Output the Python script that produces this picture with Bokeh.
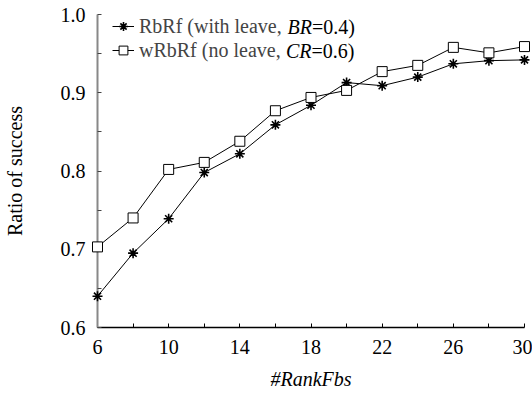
from bokeh.plotting import figure
from bokeh.models import Range1d, FixedTicker, Legend, LegendItem, Label, PrintfTickFormatter
from bokeh.embed import file_html
from bokeh.resources import INLINE

# ---- data ----
rank_fbs = [6, 8, 10, 12, 14, 16, 18, 20, 22, 24, 26, 28, 30]
rbrf = [0.640, 0.695, 0.739, 0.798, 0.822, 0.859, 0.884, 0.913, 0.909, 0.920, 0.937, 0.941, 0.942]
wrbrf = [0.703, 0.740, 0.802, 0.811, 0.838, 0.877, 0.894, 0.903, 0.927, 0.935, 0.958, 0.951, 0.959]
x_ticks = [6, 10, 14, 18, 22, 26, 30]
x_minor = [8, 12, 16, 20, 24, 28]
y_ticks = [0.6, 0.7, 0.8, 0.9, 1.0]
y_minor = [0.65, 0.75, 0.85, 0.95]

FONT = "Liberation Serif"
FS = "20px"

p = figure(width=532, height=397, output_backend="svg", toolbar_location=None,
           x_range=Range1d(6, 30), y_range=Range1d(0.6, 1.0),
           min_border_left=95, min_border_right=8, min_border_top=14, min_border_bottom=70)
p.outline_line_color = None
p.xgrid.visible = False
p.ygrid.visible = False
p.background_fill_color = "white"

for ax in (p.xaxis, p.yaxis):
    ax.major_tick_in = 4
    ax.major_tick_out = 0
    ax.minor_tick_in = 4
    ax.minor_tick_out = 0
    ax.major_label_text_font = FONT
    ax.major_label_text_font_size = FS
    ax.major_label_text_color = "black"
    ax.axis_label_text_font = FONT
    ax.axis_label_text_font_size = FS
    ax.axis_label_text_color = "black"

p.xaxis.ticker = FixedTicker(ticks=x_ticks, minor_ticks=x_minor)
p.yaxis.ticker = FixedTicker(ticks=y_ticks, minor_ticks=y_minor)
p.yaxis.formatter = PrintfTickFormatter(format="%.1f")
p.xaxis.axis_line_color = "black"
p.xaxis.axis_line_width = 1.5
p.xaxis.major_tick_line_color = "black"
p.xaxis.minor_tick_line_color = "black"
p.yaxis.axis_line_color = "#888888"
p.yaxis.axis_line_width = 2
p.yaxis.major_tick_line_color = "#444444"
p.yaxis.minor_tick_line_color = "#444444"
p.xaxis.major_label_standoff = 12
p.yaxis.major_label_standoff = 12
p.xaxis.axis_label = "#RankFbs"
p.xaxis.axis_label_text_font_style = "italic"
p.xaxis.axis_label_standoff = 11
p.yaxis.axis_label = "Ratio of success"
p.yaxis.axis_label_text_font_style = "normal"
p.yaxis.axis_label_standoff = 32

l1 = p.line(rank_fbs, rbrf, line_color="black", line_width=1)
s1 = p.scatter(rank_fbs, rbrf, marker="asterisk", size=10, line_color="black", line_width=1.6, level="overlay")
l2 = p.line(rank_fbs, wrbrf, line_color="black", line_width=1)
s2 = p.scatter(rank_fbs, wrbrf, marker="square", size=10, line_color="black", fill_color="white", line_width=1, level="overlay")

legend = Legend(items=[LegendItem(label="RbRf (with leave,", renderers=[l1, s1]),
                       LegendItem(label="wRbRf (no leave,", renderers=[l2, s2])],
                location=(15, 265), padding=0, spacing=0, margin=0,
                label_height=24, glyph_height=24, glyph_width=22, label_standoff=5,
                border_line_color=None, background_fill_alpha=0,
                label_text_font=FONT, label_text_font_size=FS)
p.add_layout(legend)

def lab(x, y, t, style="normal"):
    p.add_layout(Label(x=x, y=y, x_units="screen", y_units="screen", text=t,
                       text_font=FONT, text_font_size=FS, text_font_style=style,
                       text_baseline="middle", text_align="left", text_color="black"))

lab(190, 301, "BR", "italic")
lab(214.5, 301, "=0.4)")
lab(188.5, 277, "CR", "italic")
lab(214, 277, "=0.6)")

open("out.html", "w").write(file_html(p, INLINE))
